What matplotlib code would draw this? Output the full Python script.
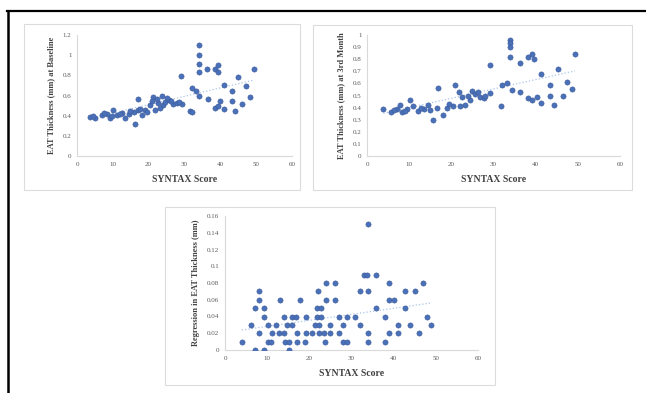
import numpy as np
import matplotlib
matplotlib.use("Agg")
import matplotlib.pyplot as plt
from matplotlib.patches import Rectangle
from matplotlib.lines import Line2D

# SYNTAX score vs EAT thickness at baseline
syntax_base = [3.6, 5.0, 6.9, 8.3, 9.2, 10.1, 11.1, 12.5, 13.5, 14.4, 15.8, 16.2, 16.9, 17.1,
               18.0, 19.0, 20.4, 21.3, 21.8, 22.7, 23.8, 24.1, 24.6, 25.7, 26.9, 27.9, 29.3,
               4.5, 7.5, 9.8, 12.0, 14.9, 17.5, 19.5, 20.9, 22.2, 23.2, 25.0, 26.2, 28.5,
               29.0, 31.5, 32.2, 32.0, 33.2, 34.0, 34.0, 34.0, 34.0, 34.0, 36.2, 38.5, 39.3,
               39.4, 36.5, 38.5, 39.4, 39.9, 41.0, 41.0, 43.2, 43.2, 44.1, 44.9, 46.0, 47.1,
               48.4, 49.3]
eat_base = [0.39, 0.38, 0.41, 0.42, 0.38, 0.46, 0.41, 0.43, 0.38, 0.42, 0.44, 0.32, 0.57, 0.46,
            0.41, 0.46, 0.51, 0.59, 0.46, 0.53, 0.60, 0.51, 0.54, 0.56, 0.52, 0.53, 0.52,
            0.40, 0.43, 0.40, 0.42, 0.45, 0.47, 0.44, 0.55, 0.57, 0.48, 0.58, 0.55, 0.54,
            0.79, 0.45, 0.44, 0.67, 0.64, 0.60, 0.83, 0.91, 1.00, 1.10, 0.86, 0.86, 0.90,
            0.83, 0.57, 0.48, 0.50, 0.55, 0.47, 0.70, 0.64, 0.55, 0.45, 0.78, 0.52, 0.69,
            0.59, 0.86]

# SYNTAX score vs EAT thickness at 3rd month
syntax_3m = [3.9, 5.8, 7.0, 7.8, 8.2, 9.4, 10.2, 11.0, 12.2, 13.4, 14.5, 15.7, 16.5, 16.9,
             18.1, 18.9, 20.4, 20.9, 21.7, 22.5, 23.3, 24.5, 24.9, 25.7, 26.9, 27.7, 29.2,
             6.5, 9.0, 12.8, 15.0, 19.5, 22.0, 24.0, 26.3, 28.0,
             29.2, 31.8, 31.9, 33.1, 33.9, 33.9, 33.9, 33.9, 34.3, 36.3, 36.3, 38.3, 39.1,
             39.5, 38.3, 39.1, 40.3, 41.3, 41.3, 43.4, 43.4, 44.4, 45.2, 46.6, 47.4, 48.5, 49.3]
eat_3m = [0.39, 0.36, 0.39, 0.42, 0.36, 0.39, 0.46, 0.41, 0.37, 0.39, 0.42, 0.30, 0.40, 0.56,
          0.34, 0.40, 0.41, 0.59, 0.53, 0.49, 0.42, 0.46, 0.54, 0.51, 0.49, 0.48, 0.52,
          0.38, 0.37, 0.40, 0.38, 0.43, 0.41, 0.50, 0.53, 0.50,
          0.75, 0.41, 0.59, 0.60, 0.96, 0.93, 0.90, 0.82, 0.545, 0.77, 0.53, 0.82, 0.84,
          0.80, 0.48, 0.46, 0.49, 0.68, 0.44, 0.59, 0.50, 0.42, 0.72, 0.50, 0.61, 0.55, 0.84]

# SYNTAX score vs regression in EAT thickness
syntax_reg = [33.9,
              32.9, 33.7, 35.8,
              24.0, 26.0, 38.8, 46.9,
              8.1, 22.1, 31.9, 33.9, 42.8, 45.0,
              8.1, 13.1, 17.9, 24.0, 26.0, 38.8, 40.0,
              7.0, 9.2, 21.8, 22.8, 35.8, 42.8,
              9.2, 13.9, 15.9, 16.8, 19.1, 21.8, 22.8, 27.0, 28.9, 30.9, 38.0, 47.9,
              6.2, 10.2, 12.1, 14.7, 15.9, 21.3, 22.2, 25.0, 28.1, 32.1, 41.0, 43.9, 48.9,
              8.1, 11.1, 12.7, 13.9, 17.1, 19.1, 20.6, 22.2, 23.4, 25.0, 27.0, 33.9, 38.8,
              41.0, 45.9,
              4.0, 10.2, 11.0, 14.2, 15.1, 17.1, 18.9, 23.8, 28.1, 28.9, 33.9, 37.9,
              7.0, 9.2, 15.1]
eat_reg = [0.15,
           0.09, 0.09, 0.09,
           0.08, 0.08, 0.08, 0.08,
           0.07, 0.07, 0.07, 0.07, 0.07, 0.07,
           0.06, 0.06, 0.06, 0.06, 0.06, 0.06, 0.06,
           0.05, 0.05, 0.05, 0.05, 0.05, 0.05,
           0.04, 0.04, 0.04, 0.04, 0.04, 0.04, 0.04, 0.04, 0.04, 0.04, 0.04, 0.04,
           0.03, 0.03, 0.03, 0.03, 0.03, 0.03, 0.03, 0.03, 0.03, 0.03, 0.03, 0.03, 0.03,
           0.02, 0.02, 0.02, 0.02, 0.02, 0.02, 0.02, 0.02, 0.02, 0.02, 0.02, 0.02, 0.02,
           0.02, 0.02,
           0.01, 0.01, 0.01, 0.01, 0.01, 0.01, 0.01, 0.01, 0.01, 0.01, 0.01, 0.01,
           0.0, 0.0, 0.0]

x_ticks = [0, 10, 20, 30, 40, 50, 60]
y_ticks_base = [0, 0.2, 0.4, 0.6, 0.8, 1, 1.2]
y_labels_base = ["0", "0.2", "0.4", "0.6", "0.8", "1", "1.2"]
y_ticks_3m = [0, 0.1, 0.2, 0.3, 0.4, 0.5, 0.6, 0.7, 0.8, 0.9, 1]
y_labels_3m = ["0", "0.1", "0.2", "0.3", "0.4", "0.5", "0.6", "0.7", "0.8", "0.9", "1"]
y_ticks_reg = [0, 0.02, 0.04, 0.06, 0.08, 0.1, 0.12, 0.14, 0.16]
y_labels_reg = ["0", "0.02", "0.04", "0.06", "0.08", "0.1", "0.12", "0.14", "0.16"]

plt.rcParams["font.family"] = ["Liberation Serif", "DejaVu Serif"]

W, H = 646, 393
fig = plt.figure(figsize=(W / 100, H / 100), dpi=100)

MARKER = "#4a70b8"
EDGE = "#3a5a9a"
TREND = "#a9c6ea"
SPINE = "#d9d9d9"
TICKC = "#595959"


def px_rect(x0, y0, x1, y1):
    # pixel box (top-left origin) -> figure fraction [l, b, w, h]
    return [x0 / W, 1 - y1 / H, (x1 - x0) / W, (y1 - y0) / H]


# outer frame lines (top and left)
fig.add_artist(Line2D([7 / W, 1], [1 - 11 / H, 1 - 11 / H], color="black", lw=1.6,
                      transform=fig.transFigure))
fig.add_artist(Line2D([7.5 / W, 7.5 / W], [0, 1 - 11 / H], color="black", lw=1.8,
                      transform=fig.transFigure))

# panel boxes
for (x0, y0, x1, y1) in [(24, 24, 300, 190), (313, 25, 632, 190), (165, 207, 495, 385)]:
    l, b, w, h = px_rect(x0, y0, x1, y1)
    fig.add_artist(Rectangle((l, b), w, h, transform=fig.transFigure, fill=False,
                             edgecolor="#dcdcdc", lw=0.8))


def panel(rect, xs, ys, yticks, ylabels, ylim, ylabel):
    ax = fig.add_axes(px_rect(*rect))
    ax.scatter(xs, ys, s=14, color=MARKER, edgecolors=EDGE, linewidths=0.4, zorder=3)
    k, c = np.polyfit(xs, ys, 1)
    xx = np.array([min(xs), max(xs)])
    ax.plot(xx, k * xx + c, ls=":", color=TREND, lw=0.9, zorder=2)
    ax.set_xlim(0, 60)
    ax.set_ylim(*ylim)
    ax.set_xticks(x_ticks)
    ax.set_yticks(yticks)
    ax.set_yticklabels(ylabels)
    ax.tick_params(length=0, labelsize=5, colors=TICKC, pad=4)
    for s in ["top", "right"]:
        ax.spines[s].set_visible(False)
    for s in ["left", "bottom"]:
        ax.spines[s].set_color(SPINE)
        ax.spines[s].set_linewidth(0.8)
    ax.set_xlabel("SYNTAX Score", fontsize=7, fontweight="bold", color="#404040", labelpad=6)
    ax.set_ylabel(ylabel, fontsize=6, fontweight="bold", color="#404040", labelpad=5)
    return ax


panel((77, 35, 292, 156), syntax_base, eat_base, y_ticks_base, y_labels_base, (0, 1.2),
      "EAT Thickness (mm) at Baseline")
panel((367, 35, 620, 156), syntax_3m, eat_3m, y_ticks_3m, y_labels_3m, (0, 1),
      "EAT Thickness (mm) at 3rd Month")
panel((225, 216, 478, 350), syntax_reg, eat_reg, y_ticks_reg, y_labels_reg, (0, 0.16),
      "Regression in EAT Thickness (mm)")

fig.savefig("out.png", dpi=100)
